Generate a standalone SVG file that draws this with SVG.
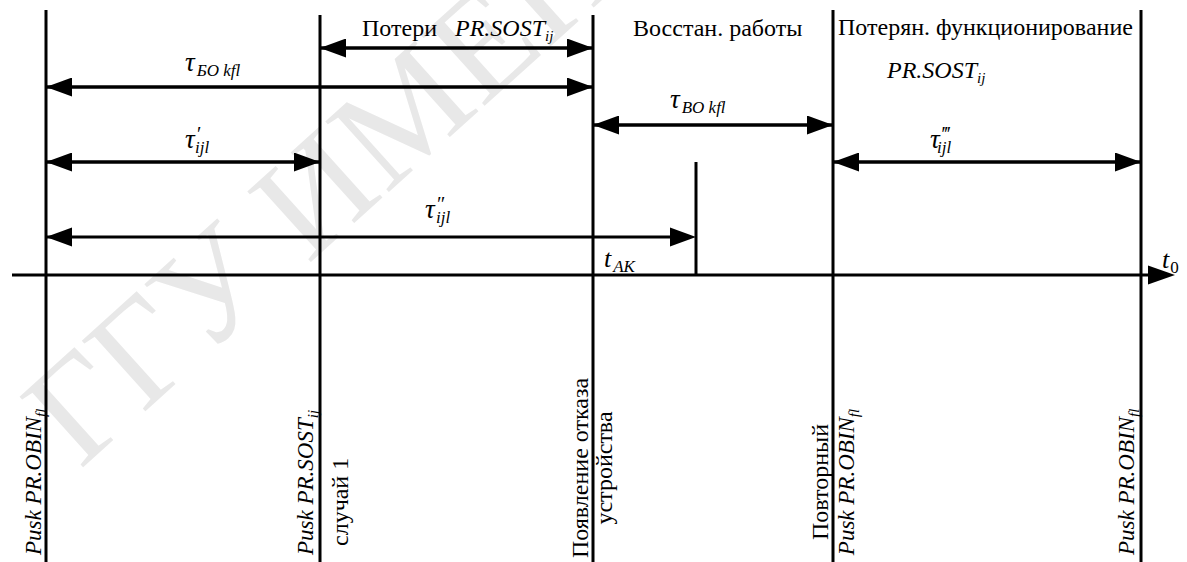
<svg xmlns="http://www.w3.org/2000/svg" width="1187" height="562" viewBox="0 0 1187 562">
<style>
.ln{stroke:#000;stroke-width:3;fill:none}
.ar{stroke:#000;stroke-width:3.5;fill:none;marker-start:url(#ah);marker-end:url(#ah)}
.rm{font-size:24px;fill:#000}
.it{font-style:italic;fill:#000}
.wm{font-size:145px;fill:#e8e8e8}
</style>
<defs>
<marker id="ah" viewBox="0 0 26 19" refX="26" refY="9.5" markerWidth="26" markerHeight="19" markerUnits="userSpaceOnUse" orient="auto-start-reverse">
<path d="M0,0 L26,9.5 L0,19 z" fill="#000"/>
</marker>
</defs>
<rect width="1187" height="562" fill="#fff"/>
<text class="wm" font-family="Liberation Serif, DejaVu Serif, serif" transform="translate(80,470) rotate(-42)">ГГУ ИМЕНИ</text>

<g id="connectors">
<line class="ln" x1="12" y1="275" x2="1150" y2="275"/>
<path d="M1148,265.5 L1175,275 L1148,284.5 z" fill="#000"/>
<line class="ar" x1="320" y1="48" x2="593" y2="48"/>
<line class="ar" x1="46" y1="87" x2="593" y2="87"/>
<line class="ar" x1="593" y1="125" x2="833" y2="125"/>
<line class="ar" x1="46" y1="162" x2="320" y2="162"/>
<line class="ar" x1="833" y1="162" x2="1141" y2="162"/>
<line class="ln" x1="46" y1="237" x2="672" y2="237" stroke-width="3.5"/>
<path d="M670,227.5 L696,237 L670,246.5 z" fill="#000"/>
<path d="M72,227.5 L46,237 L72,246.5 z" fill="#000"/>
</g>

<g font-family="Liberation Serif, DejaVu Serif, serif">
<g id="line-pusk-obin-1">
<line class="ln" x1="46" y1="10" x2="46" y2="562"/>
<text class="it" font-size="23" transform="translate(41,555) rotate(-90)">Pusk PR.OBIN<tspan font-size="15" dy="5">fl</tspan></text>
</g>
<g id="line-pusk-sost">
<line class="ln" x1="320" y1="15" x2="320" y2="562"/>
<text class="it" font-size="23" transform="translate(313,555) rotate(-90)">Pusk PR.SOST<tspan font-size="15" dy="5">ij</tspan></text>
<text class="rm" transform="translate(348,546) rotate(-90)">случай 1</text>
</g>
<g id="line-failure">
<line class="ln" x1="593" y1="15" x2="593" y2="562"/>
<text class="rm" text-anchor="middle" transform="translate(588,468) rotate(-90)">Появление отказа</text>
<text class="rm" text-anchor="middle" transform="translate(612,468) rotate(-90)">устройства</text>
</g>
<g id="line-tak">
<line class="ln" x1="696" y1="162" x2="696" y2="275"/>
<text class="it" font-size="26" x="604" y="267">t<tspan font-size="17" dx="2" dy="5">AK</tspan></text>
</g>
<g id="line-repeat">
<line class="ln" x1="833" y1="10" x2="833" y2="562"/>
<text class="rm" text-anchor="middle" transform="translate(828,482) rotate(-90)">Повторный</text>
<text class="it" font-size="23" text-anchor="middle" transform="translate(854,482) rotate(-90)">Pusk PR.OBIN<tspan font-size="15" dy="5">fl</tspan></text>
</g>
<g id="line-pusk-obin-2">
<line class="ln" x1="1141" y1="10" x2="1141" y2="562"/>
<text class="it" font-size="23" transform="translate(1134,555) rotate(-90)">Pusk PR.OBIN<tspan font-size="15" dy="5">fl</tspan></text>
</g>
<g id="axis-label">
<text class="it" font-size="26" x="1162" y="268">t<tspan font-style="normal" font-size="17" dx="1" dy="5">0</tspan></text>
</g>

<g id="labels">
<text class="rm" x="362" y="36">Потери</text>
<text class="it" font-size="24" x="455" y="36">PR.SOST<tspan font-size="15" dy="5">ij</tspan></text>
<text class="rm" x="633" y="36">Восстан. работы</text>
<text class="rm" x="838" y="35">Потерян. функционирование</text>
<text class="it" font-size="24" x="887" y="78">PR.SOST<tspan font-size="15" dy="5">ij</tspan></text>
<text class="it" font-size="27" x="185" y="71">τ<tspan font-size="17" dx="2" dy="5">БО kfl</tspan></text>
<text class="it" font-size="27" x="670" y="108">τ<tspan font-size="17" dx="2" dy="5">BO kfl</tspan></text>
<text class="it" font-size="27" x="185" y="148">τ<tspan font-size="20" dx="1" dy="-7">′</tspan><tspan font-size="17" dx="-5" dy="12">ijl</tspan></text>
<text class="it" font-size="27" x="425" y="218">τ<tspan font-size="20" dx="1" dy="-7">″</tspan><tspan font-size="17" dx="-8" dy="12">ijl</tspan></text>
<text class="it" font-size="27" x="930" y="148">τ<tspan font-size="20" dx="1" dy="-7">‴</tspan><tspan font-size="17" dx="-12" dy="12">ijl</tspan></text>
</g>
</g>
</svg>
